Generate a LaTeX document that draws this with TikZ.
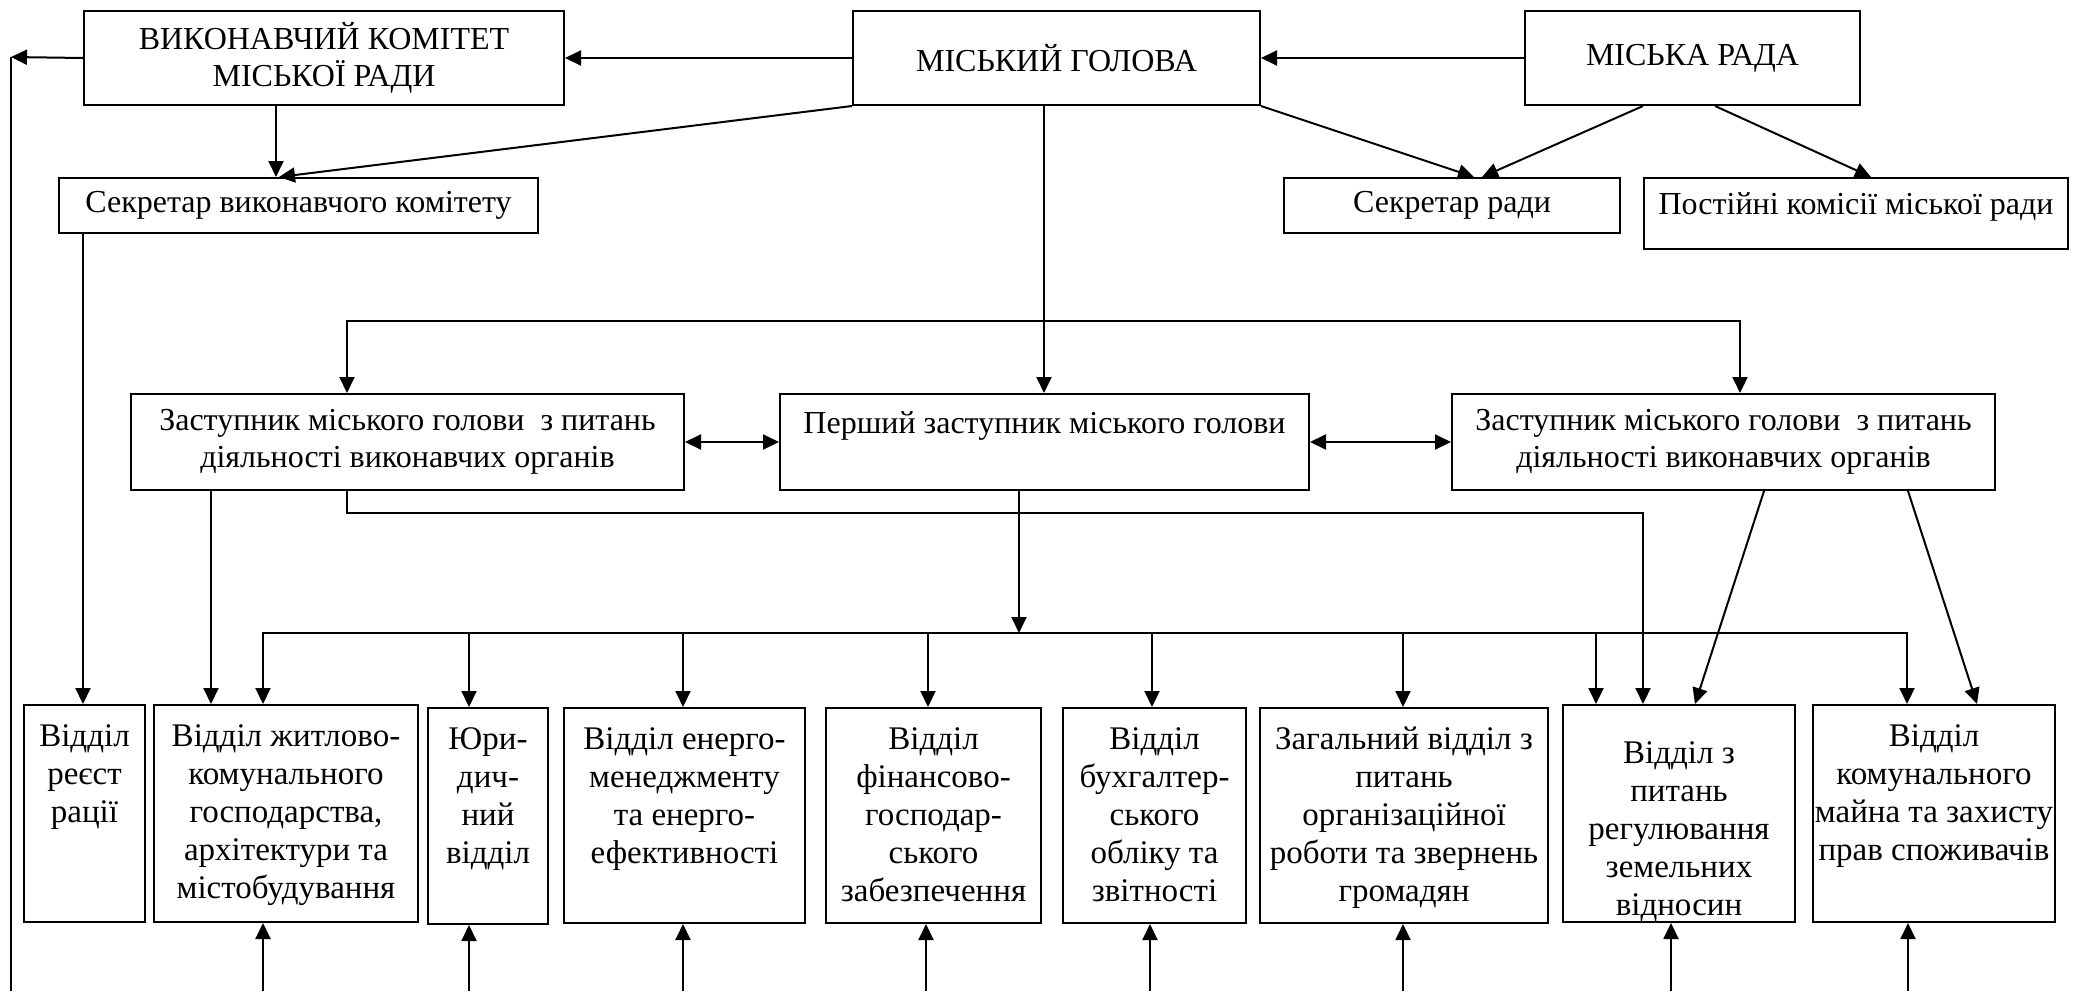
\documentclass[tikz,border=0pt]{standalone}
\usepackage{fontspec}
\setmainfont{Liberation Serif}
\usetikzlibrary{arrows.meta}
\hyphenpenalty=10000
\newcommand\tbx[4]{\parbox[c][#2][t]{#1}{\centering\leftskip=-40pt plus 1fil\rightskip=-40pt plus 1fil\rule{0pt}{#3}#4}}
\begin{document}
\begin{tikzpicture}[x=0.5pt,y=-0.5pt,
  box/.style={draw, line width=1pt, inner sep=0pt, anchor=north west, align=center, font=\fontsize{16}{18.5}\selectfont},
  tbox/.style={draw, line width=1pt, inner sep=0pt, anchor=north west, font=\fontsize{16}{18.5}\selectfont},
  dept/.style={tbox, font=\fontsize{16.5}{19}\selectfont},
  con/.style={line width=1pt, -{Triangle[length=8pt,width=7.5pt]}},
  ln/.style={line width=1pt},
  dbl/.style={line width=1pt, {Triangle[length=8pt,width=7.5pt]}-{Triangle[length=8pt,width=7.5pt]}},
]
\useasboundingbox (0,0) rectangle (2081,991);
% top level
\node[box, minimum width=240pt, minimum height=47pt] (vk) at (83,10) {ВИКОНАВЧИЙ КОМІТЕТ\\МІСЬКОЇ РАДИ};
\node[box, minimum width=203.5pt, minimum height=47pt] (gol) at (852,10) {МІСЬКИЙ ГОЛОВА};
\node[box, minimum width=167.5pt, minimum height=47pt] (rada) at (1524,10) {МІСЬКА РАДА};
\node[box, minimum width=239.5pt, minimum height=27.5pt] (sv) at (58,177) {Секретар виконавчого комітету};
\node[box, minimum width=168pt, minimum height=27.5pt] (sr) at (1283,177) {Секретар ради};
\node[tbox] (pk) at (1643,177) {\tbx{212pt}{35.5pt}{18pt}{Постійні комісії міської ради}};
% deputies
\node[box, minimum width=276.5pt, minimum height=48pt] (zl) at (130,393) {Заступник міського голови\ \ з питань\\діяльності виконавчих органів};
\node[tbox] (per) at (779,393) {\tbx{264.5pt}{48pt}{19.5pt}{Перший заступник міського голови}};
\node[box, minimum width=271.5pt, minimum height=48pt] (zr) at (1451,393) {Заступник міського голови\ \ з питань\\діяльності виконавчих органів};
% departments
\node[dept] (rg) at (23,704) {\tbx{60.5pt}{108.5pt}{20.5pt}{Відділ\\реєст\\рації}};
\node[dept] (zh) at (153,704) {\tbx{132pt}{108.5pt}{20.5pt}{Відділ житлово-\\комунального\\господарства,\\архітектури та\\містобудування}};
\node[dept] (yu) at (427,707) {\tbx{60pt}{108pt}{20.5pt}{Юри-\\дич-\\ний\\відділ}};
\node[dept] (en) at (563,707) {\tbx{120.5pt}{107.5pt}{20.5pt}{Відділ енерго-\\менеджменту\\та енерго-\\ефективності}};
\node[dept] (fin) at (825,707) {\tbx{107.5pt}{107.5pt}{20.5pt}{Відділ\\фінансово-\\господар-\\ського\\забезпечення}};
\node[dept] (bh) at (1062,707) {\tbx{91.5pt}{107.5pt}{20.5pt}{Відділ\\бухгалтер-\\ського\\обліку та\\звітності}};
\node[dept] (zg) at (1259,707) {\tbx{144pt}{107.5pt}{20.5pt}{Загальний відділ з\\питань\\організаційної\\роботи та звернень\\громадян}};
\node[dept] (zem) at (1562,704) {\tbx{116pt}{108.5pt}{29pt}{Відділ з\\питань\\регулювання\\земельних\\відносин}};
\node[dept] (kom) at (1812,704) {\tbx{121pt}{108.5pt}{20.5pt}{Відділ\\комунального\\майна та захисту\\прав споживачів}};
% helper coordinates
\coordinate (lt) at (11,57);
\coordinate (lb) at (11,991);
\coordinate (j1) at (1044,321);
\coordinate (b2) at (0,513);
\coordinate (j3) at (1019,633);
% connectors
\draw[con] (gol.west) -- (vk.east);
\draw[con] (rada.west) -- (gol.east);
\draw[con] (vk.west) -- (lt);
\draw[ln] (lt) -- (lb);
\draw[con] (vk.south -| 276,0) -- (sv.north -| 276,0);
\draw[con] (gol.south west) -- (sv.north -| 279,0);
\draw[con] (gol.south east) -- (sr.north -| 1474,0);
\draw[con] (rada.south -| 1643,0) -- (sr.north -| 1482,0);
\draw[con] (rada.south -| 1715,0) -- (pk.north -| 1871,0);
\draw[con] (gol.south -| 1044,0) -- (per.north -| 1044,0);
\draw[con] (j1) -| (zl.north -| 347,0);
\draw[con] (j1) -| (zr.north -| 1740,0);
\draw[dbl] (zl.east) -- (per.west);
\draw[dbl] (per.east) -- (zr.west);
\draw[con] (sv.south -| 83,0) -- (rg.north -| 83,0);
\draw[con] (zl.south -| 211,0) -- (zh.north -| 211,0);
\draw[con] (zl.south -| 347,0) -- (b2 -| 347,0) -| (zem.north -| 1643,0);
\draw[con] (per.south -| 1019,0) -- (j3);
\draw[con] (j3) -| (zh.north -| 263,0);
\draw[con] (j3) -| (kom.north -| 1907,0);
\foreach \x/\n in {469/yu,683/en,928/fin,1152/bh,1403/zg,1596/zem}
  \draw[con] (j3 -| \x,0) -- (\n.north -| \x,0);
\draw[con] (zr.south -| 1764,0) -- (zem.north -| 1695,0);
\draw[con] (zr.south -| 1908,0) -- (kom.north -| 1977,0);
\foreach \x/\n in {263/zh,469/yu,683/en,926/fin,1150/bh,1403/zg,1671/zem,1908/kom}
  \draw[con] (lb -| \x,0) -- (\n.south -| \x,0);
\end{tikzpicture}
\end{document}
